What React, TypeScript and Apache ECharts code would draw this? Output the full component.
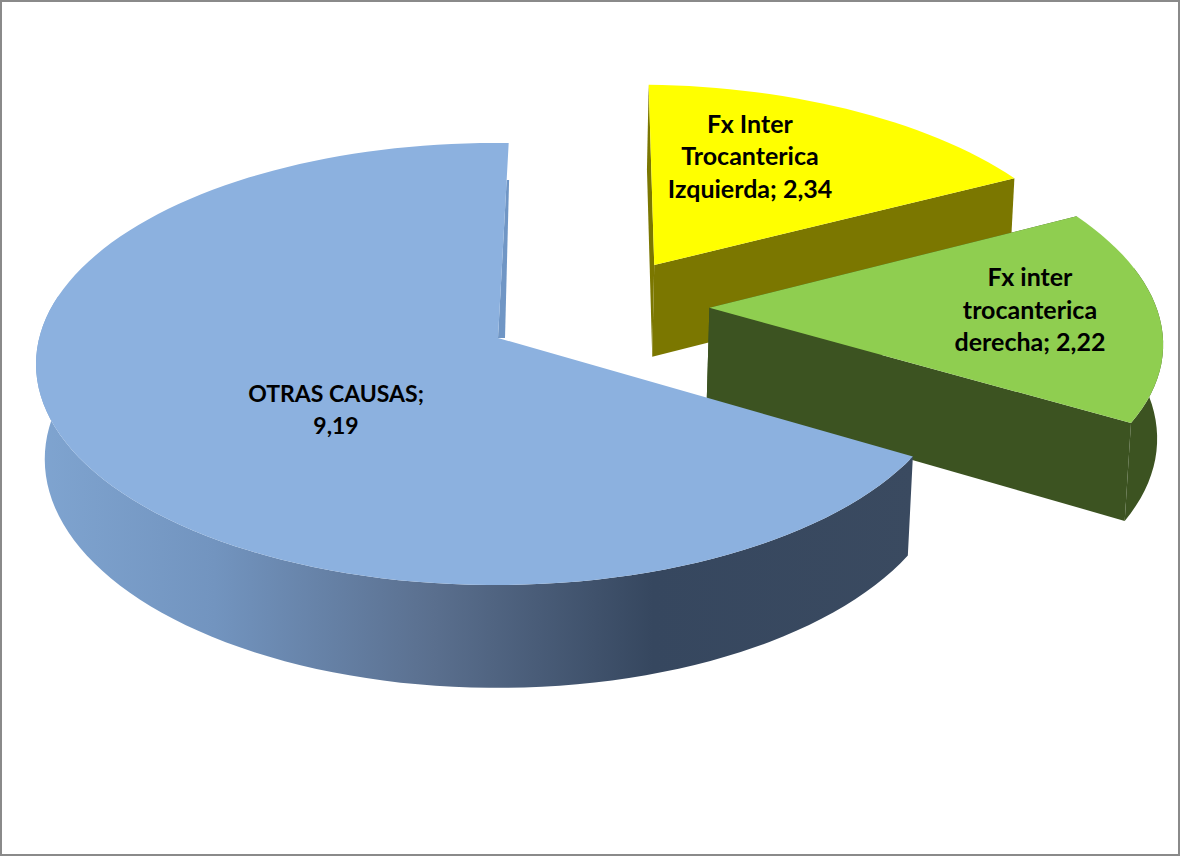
import React, { useEffect, useRef } from "react";
import * as echarts from "echarts";

const categories = ["Fx Inter Trocanterica Izquierda", "Fx inter trocanterica derecha", "OTRAS CAUSAS"];
const values = [2.34, 2.22, 9.19];
const labelTexts = ["Fx Inter\nTrocanterica\nIzquierda; 2,34", "Fx inter\ntrocanterica\nderecha; 2,22", "OTRAS CAUSAS;\n9,19"];
const topColors = ["#FFFF00", "#8FCE50", "#8CB1DF"];
const sideColors = ["#7B7700", "#3C5321", "#7096C5"];

// Exploded offset of each slice on the pie's plane, its radius factor, and its label.
const explode = [[0.357, 0.349], [0.472, 0.141], [0, 0]];
const radiusScale = [1, 1.006, 1];
const labelAnchors = [[750, 155], [1030, 308.5], [336, 409]];
const labelSizes = [25, 25, 23];
// The big slice's inner wall shows as a narrow strip beside its straight edge.
const innerStripWidth = [0, 0, 7];

const FIRST_ANGLE = 1.5;
const CX = 498, CY = 338, RX = 456.4, RY = 218, DEPTH = 96;
const PERSPECTIVE_V = 0.1176, PERSPECTIVE_U = 0.0052, PERSPECTIVE_Z = 0.015, PERSPECTIVE_ZU = -0.004;

const total = values.reduce((a, b) => a + b, 0);

function project(u: number, v: number, z: number): number[] {
  const w = 1 + PERSPECTIVE_V * v + PERSPECTIVE_U * u + (PERSPECTIVE_Z + PERSPECTIVE_ZU * u) * z;
  return [CX + (RX * u) / w, CY - (RY * v - DEPTH * z) / w];
}

function sliceShapes(index: number, value: number) {
  const before = values.slice(0, index).reduce((a, b) => a + b, 0);
  const a0 = ((FIRST_ANGLE + (before / total) * 360) * Math.PI) / 180;
  const a1 = a0 + ((value / total) * 360 * Math.PI) / 180;
  const [ou, ov] = explode[index];
  const rs = radiusScale[index];
  const steps = Math.max(12, Math.round(((a1 - a0) * 180) / Math.PI / 2));
  const angles: number[] = [];
  for (let i = 0; i <= steps; i++) angles.push(a0 + ((a1 - a0) * i) / steps);
  const onRim = (t: number, z: number) => project(ou + rs * Math.sin(t), ov + rs * Math.cos(t), z);
  const hubTop = project(ou, ov, 0);
  const hubBottom = project(ou, ov, 1);
  const top = angles.map((t) => onRim(t, 0));
  const bottom = angles.map((t) => onRim(t, 1));
  // Only the part of the rim turned towards the viewer is drawn.
  const front = angles.filter((t) => Math.cos(t) < 0.2);
  const rim = [...front.map((t) => onRim(t, 0)), ...front.slice().reverse().map((t) => onRim(t, 1))];
  const strip = innerStripWidth[index];
  const last = top.length - 1;
  let walls = [
    [hubTop, top[0], bottom[0], hubBottom],
    [hubTop, top[last], bottom[last], hubBottom],
  ];
  if (strip > 0) {
    const edge = [
      hubTop[0] + 0.81 * (top[last][0] - hubTop[0]),
      hubTop[1] + 0.81 * (top[last][1] - hubTop[1]),
    ];
    // The other straight wall lies wholly under the slice's own top face.
    walls = [[hubTop, edge, [edge[0] + strip * 0.35, edge[1]], [hubTop[0] + strip, hubTop[1]]]];
  }
  return { top: [hubTop, ...top], rim, walls };
}

const rimGradient = () =>
  new echarts.graphic.LinearGradient(
    40, 0, 915, 0,
    [
      { offset: 0, color: "#7FA4D0" },
      { offset: 0.2, color: "#7294BF" },
      { offset: 0.45, color: "#5A6F8E" },
      { offset: 0.7, color: "#36475F" },
      { offset: 1, color: "#3A4A60" },
    ],
    true
  );

const renderSlice = (params: any, api: any) => {
  const i = params.dataIndex;
  const s = sliceShapes(i, api.value(0));
  const poly = (points: number[][], fill: any) => ({
    type: "polygon",
    shape: { points },
    style: { fill, stroke: null },
    silent: true,
  });
  const side = sideColors[i];
  const rimFill = i === 2 ? rimGradient() : side;
  const children: any[] = s.walls.map((w) => poly(w, side));
  if (s.rim.length > 2) children.push(poly(s.rim, rimFill));
  children.push(poly(s.top, topColors[i]));
  children.push({
    type: "text",
    silent: true,
    style: {
      text: labelTexts[i],
      x: labelAnchors[i][0],
      y: labelAnchors[i][1],
      align: "center",
      verticalAlign: "middle",
      textAlign: "center",
      textVerticalAlign: "middle",
      fill: "#000000",
      fontFamily: "Lato",
      fontWeight: "bold",
      fontSize: labelSizes[i],
      lineHeight: 32.5,
    },
  });
  return { type: "group", children };
};

export default function App() {
  const ref = useRef<HTMLDivElement>(null);
  useEffect(() => {
    document.body.style.margin = "0";
    const chart = echarts.init(ref.current!, null, { renderer: "svg" });
    chart.setOption({
      animation: false,
      backgroundColor: "#FFFFFF",
      graphic: [
        {
          type: "rect",
          z: -1,
          shape: { x: 1, y: 1, width: 1178, height: 854 },
          style: { fill: "none", stroke: "#8A8A8A", lineWidth: 2 },
        },
      ],
      series: [
        {
          type: "custom",
          name: "Causas",
          coordinateSystem: "none",
          renderItem: renderSlice,
          data: values.map((v, i) => ({ name: categories[i], value: [v] })),
        },
      ],
    });
    return () => chart.dispose();
  }, []);
  return <div ref={ref} style={{ width: 1180, height: 856 }} />;
}
